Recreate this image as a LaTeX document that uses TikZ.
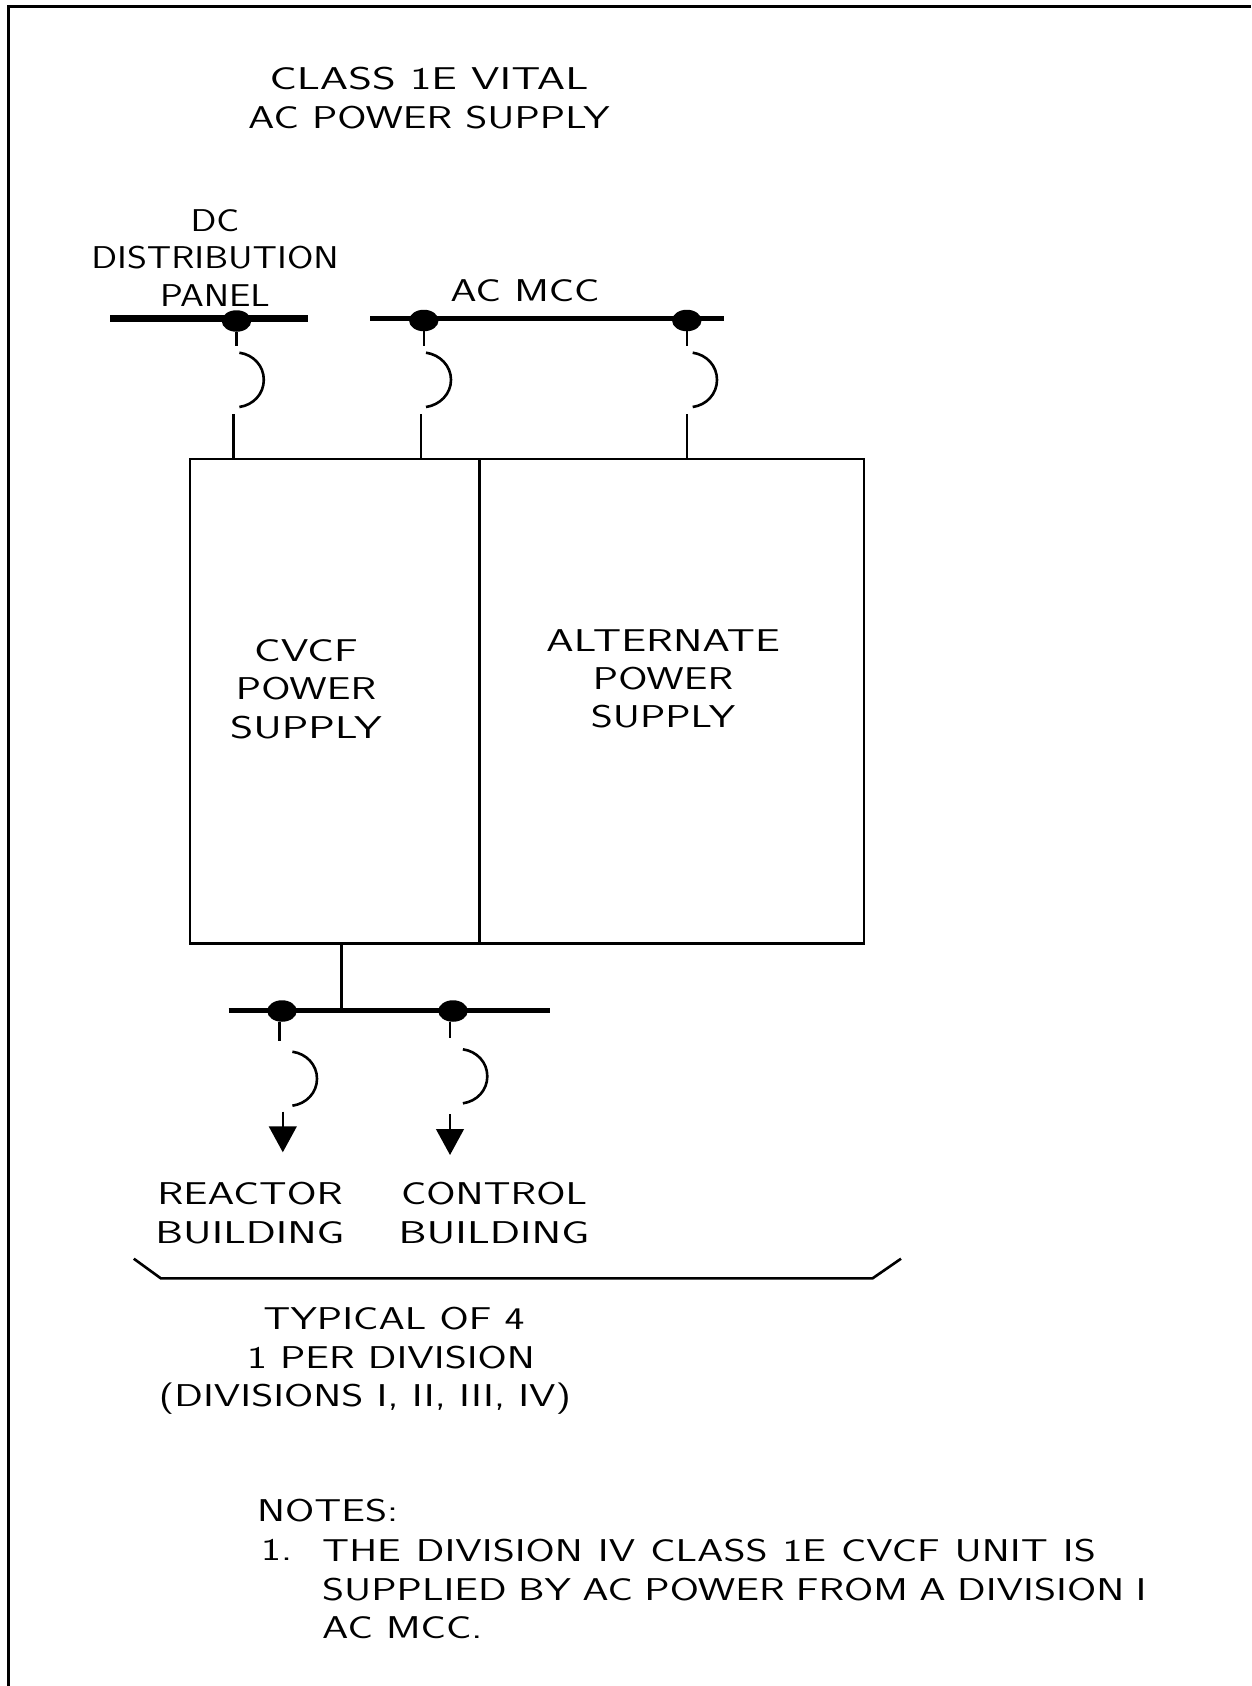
\documentclass[tikz,border=0pt]{standalone}
\usepackage{fontspec}
\usetikzlibrary{shapes.geometric,arrows.meta}
\newfontfamily\dwg[FakeStretch=1.34]{Latin Modern Sans}
\newfontfamily\dwgtight[FakeStretch=1.21]{Latin Modern Sans}
\newcommand{\wid}[2]{\scalebox{#1}[1]{#2}}
\tikzset{
  lbl/.style={inner sep=0pt,align=center,font=\fontsize{31.5bp}{38.3bp}\selectfont\dwg},
  lbltight/.style={lbl,font=\fontsize{31.5bp}{37.3bp}\selectfont\dwgtight},
  lblleft/.style={lbl,align=left,anchor=west},
  wire/.style={line width=2.6bp,black},
  panelbox/.style={draw=black,line width=2.7bp,rectangle,inner sep=0pt},
  bus/.style={black,line width=4.5bp},
  heavybus/.style={black,line width=6.5bp},
  dot/.style={ellipse,fill=black,draw=none,inner sep=0pt,minimum width=29.5bp,minimum height=21.5bp},
  tipped/.style={wire,-{Triangle[width=27.6bp,length=26bp]}},
}
\newcommand{\brk}[4]{% breaker arc: x0, ytop, xmax, ybottom
  \draw[wire] (#1,#2) .. controls ({#1+14},{#2+2}) and (#3,{(#2+#4)/2-14}) .. (#3,{(#2+#4)/2})
     .. controls (#3,{(#2+#4)/2+14}) and ({#1+14},{#4-2}) .. (#1,#4);}
\begin{document}
\begin{tikzpicture}[x=1bp,y=-1bp]
\useasboundingbox (0,0) rectangle (1251,1686);
\fill[white] (0,0) rectangle (1251,1686);
% frame
\draw[black,line width=3bp] (8.3,1686) -- (8.3,6.3) -- (1251,6.3);
% boxes
\node[panelbox,minimum width=289.7bp,minimum height=484.5bp] (cvcf) at (334.85,701.25) {};
\node[panelbox,minimum width=384.3bp,minimum height=484.5bp] (alt) at (671.85,701.25) {};
% upper buses
\coordinate (dcL) at (110,318.7); \coordinate (dcR) at (307.5,318.7);
\coordinate (acL) at (370,318.7); \coordinate (acR) at (724,318.7);
\draw[heavybus] (dcL) -- (dcR);
\draw[bus] (acL) -- (acR);
\node[dot] (d1) at (236.5,321) {};
\node[dot] (d2) at (423.8,320.5) {};
\node[dot] (d3) at (686.8,320.5) {};
% stubs above breakers
\coordinate (s1) at (236.5,346); \coordinate (s2) at (423.8,346); \coordinate (s3) at (686.8,346);
\draw[wire] (d1.south) -- (s1);
\draw[wire] (d2.south) -- (s2);
\draw[wire] (d3.south) -- (s3);
\brk{239.4}{352.7}{263.8}{407}
\brk{426}{352.7}{451}{407}
\brk{692.7}{352.7}{717}{407}
% stubs below breakers
\coordinate (t1) at (233.5,414); \coordinate (t2) at (420.8,414); \coordinate (t3) at (686.8,414);
\draw[wire] (t1) -- (t1 |- cvcf.north);
\draw[wire] (t2) -- (t2 |- cvcf.north);
\draw[wire] (t3) -- (t3 |- alt.north);
% lower bus
\coordinate (lbL) at (228.7,1010.7); \coordinate (lbR) at (550,1010.7);
\coordinate (stemtop) at (341.4,943.5); \coordinate (stembot) at (341.4,1010.7);
\draw[wire] (stemtop) -- (stembot);
\draw[bus] (lbL) -- (lbR);
\node[dot] (d4) at (282,1011) {};
\node[dot] (d5) at (453,1011) {};
\coordinate (s4) at (279.7,1040.7); \coordinate (s5) at (450,1038);
\draw[wire] (s4 |- d4.south) -- (s4);
\draw[wire] (s5 |- d5.south) -- (s5);
\brk{292.4}{1051.7}{317}{1105.7}
\brk{462.9}{1049.3}{487.3}{1103.3}
\coordinate (a4) at (282.8,1111.7); \coordinate (b4) at (282.8,1152.3);
\coordinate (a5) at (450,1114); \coordinate (b5) at (450,1155);
\draw[tipped] (a4) -- (b4);
\draw[tipped] (a5) -- (b5);
% bracket
\coordinate (k1) at (133.8,1258.7); \coordinate (k2) at (160.8,1278.3);
\coordinate (k3) at (872.6,1278.3); \coordinate (k4) at (901,1258.7);
\draw[wire] (k1) -- (k2) -- (k3) -- (k4);
% labels
\node[lbl] (title) at (429,98) {\wid{1.077}{CLASS 1E VITAL}\\AC POWER SUPPLY};
\node[lbltight] (dclabel) at (215,258) {DC\\DISTRIBUTION\\PANEL};
\node[lbl] (mcc) at (525,291) {AC MCC};
\node[lbl] (cvcflabel) at (306,689) {\wid{1.05}{CVCF}\\POWER\\\wid{1.05}{SUPPLY}};
\node[lbl] (altlabel) at (663,679) {\wid{1.05}{ALTERNATE}\\POWER\\SUPPLY};
\node[lbl] (rb) at (250,1213) {\wid{1.02}{REACTOR}\\\wid{1.05}{BUILDING}};
\node[lbl] (cb) at (494,1213) {CONTROL\\\wid{1.06}{BUILDING}};
\node[lbl] (typ) at (365,1361) {\hspace*{58bp}TYPICAL OF 4\\\hspace*{52bp}1 PER DIVISION\\(DIVISIONS I, II, III, IV)};
\node[lblleft] (notes) at (257,1511) {NOTES:};
\node[lblleft] (n1) at (261,1550) {1.};
\node[lblleft] (n1t) at (322,1589) {\spaceskip=15bp THE DIVISION IV CLASS 1E CVCF UNIT IS\\\spaceskip=11.4bp SUPPLIED BY AC POWER FROM A DIVISION I\\\spaceskip=0pt AC MCC.};
\end{tikzpicture}
\end{document}
